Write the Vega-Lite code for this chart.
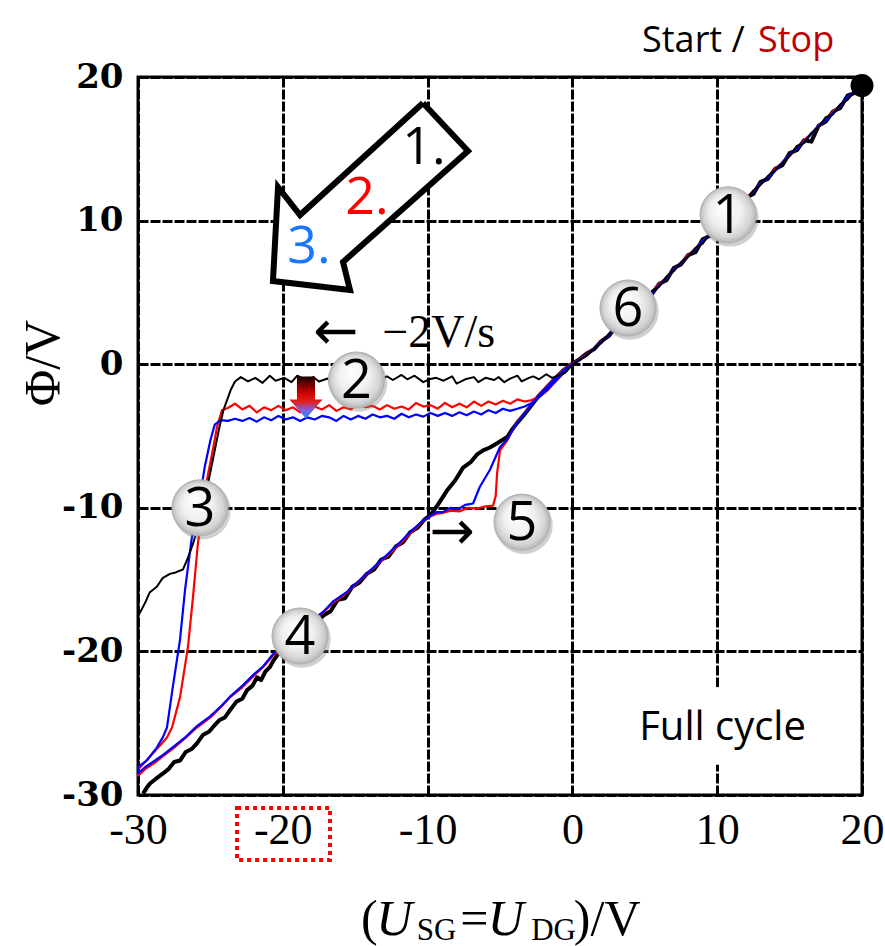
{
"$schema":"https://vega.github.io/schema/vega-lite/v6.json",
"width":724,"height":718,
"autosize":{"type":"none"},
"padding":{"left":138,"top":77,"right":23,"bottom":151},
"background":"white",
"config":{"view":{"stroke":"black","strokeWidth":3},"axis":{"domain":false,"ticks":false,"tickSize":0,"grid":true,"gridColor":"black","gridWidth":3,"gridDash":[10,2],"gridOpacity":1,"labelColor":"black","labelExpr":"'' + datum.value"}},
"datasets":{
"ku":[{"u":-29.65,"p":-29.9},{"u":-29.4,"p":-29.5},{"u":-29.17,"p":-29.2},{"u":-28.8,"p":-28.9},{"u":-28.27,"p":-28.5},{"u":-27.9,"p":-28.2},{"u":-27.5,"p":-27.7},{"u":-27.1,"p":-27.6},{"u":-26.7,"p":-27.0},{"u":-26.3,"p":-26.8},{"u":-25.93,"p":-26.4},{"u":-25.5,"p":-25.8},{"u":-25.1,"p":-25.6},{"u":-24.8,"p":-25.25},{"u":-24.4,"p":-24.8},{"u":-24.0,"p":-24.6},{"u":-23.65,"p":-24.1},{"u":-23.2,"p":-23.5},{"u":-22.8,"p":-23.3},{"u":-22.47,"p":-22.7},{"u":-22.1,"p":-22.4},{"u":-21.78,"p":-21.8},{"u":-21.5,"p":-22.0},{"u":-21.2,"p":-21.4},{"u":-20.9,"p":-21.1},{"u":-20.68,"p":-20.7},{"u":-20.2,"p":-20.0},{"u":-19.7,"p":-19.9},{"u":-19.2,"p":-19.3},{"u":-18.7,"p":-19.0},{"u":-18.2,"p":-18.3},{"u":-17.7,"p":-18.1},{"u":-17.2,"p":-17.5},{"u":-16.7,"p":-17.2},{"u":-16.2,"p":-16.4},{"u":-15.7,"p":-16.3},{"u":-15.2,"p":-15.5},{"u":-14.7,"p":-15.2},{"u":-14.2,"p":-14.6},{"u":-13.7,"p":-14.3},{"u":-13.2,"p":-13.6},{"u":-12.7,"p":-13.4},{"u":-12.2,"p":-12.7},{"u":-11.7,"p":-12.4},{"u":-11.2,"p":-11.7},{"u":-10.7,"p":-11.4},{"u":-10.2,"p":-10.8},{"u":-9.8,"p":-10.5},{"u":-9.3,"p":-9.8},{"u":-8.66,"p":-8.8},{"u":-8.1,"p":-8.1},{"u":-7.55,"p":-7.2},{"u":-7.0,"p":-6.8},{"u":-6.6,"p":-6.3},{"u":-6.17,"p":-6.0},{"u":-5.7,"p":-5.8},{"u":-5.2,"p":-5.5},{"u":-4.5,"p":-5.07},{"u":-4.2,"p":-4.6},{"u":-3.83,"p":-4.1},{"u":-3.4,"p":-3.6},{"u":-2.93,"p":-3.0},{"u":-2.4,"p":-2.3},{"u":-1.75,"p":-1.6},{"u":-1.2,"p":-1.0},{"u":-0.65,"p":-0.45},{"u":0,"p":0.05},{"u":0.5,"p":0.35},{"u":1,"p":0.75},{"u":1.5,"p":1.05},{"u":2,"p":1.6},{"u":2.5,"p":1.95},{"u":3,"p":2.6},{"u":3.5,"p":2.95},{"u":4,"p":3.6},{"u":4.5,"p":3.85},{"u":5,"p":4.6},{"u":5.5,"p":4.9},{"u":6,"p":5.6},{"u":6.5,"p":5.85},{"u":7,"p":6.7},{"u":7.5,"p":6.95},{"u":8,"p":7.6},{"u":8.5,"p":7.8},{"u":9,"p":8.7},{"u":9.5,"p":8.95},{"u":10,"p":9.6},{"u":10.5,"p":9.9},{"u":11,"p":10.7},{"u":11.5,"p":10.9},{"u":12,"p":11.6},{"u":12.5,"p":11.85},{"u":13,"p":12.7},{"u":13.5,"p":12.9},{"u":14,"p":13.6},{"u":14.5,"p":13.85},{"u":15,"p":14.7},{"u":15.5,"p":14.9},{"u":16,"p":15.6},{"u":16.5,"p":15.5},{"u":17,"p":16.6},{"u":17.5,"p":16.9},{"u":18,"p":17.6},{"u":18.5,"p":17.85},{"u":19,"p":18.7},{"u":19.5,"p":18.9},{"u":20,"p":19.45}],
"r":[{"u":20,"p":19.5},{"u":19,"p":18.5},{"u":18,"p":17.5},{"u":17,"p":16.6},{"u":16,"p":15.5},{"u":15,"p":14.6},{"u":14,"p":13.5},{"u":13,"p":12.6},{"u":12,"p":11.5},{"u":11,"p":10.6},{"u":10,"p":9.5},{"u":9,"p":8.6},{"u":8,"p":7.5},{"u":7,"p":6.6},{"u":6,"p":5.5},{"u":5,"p":4.6},{"u":4,"p":3.5},{"u":3,"p":2.6},{"u":2,"p":1.5},{"u":1,"p":0.7},{"u":0,"p":0},{"u":-0.6,"p":-0.6},{"u":-1.2,"p":-1.25},{"u":-1.7,"p":-1.8},{"u":-2.2,"p":-2.2},{"u":-2.8,"p":-2.5},{"u":-3.3,"p":-2.6},{"u":-3.8,"p":-2.45},{"u":-4.3,"p":-2.75},{"u":-4.8,"p":-2.55},{"u":-5.3,"p":-2.8},{"u":-5.8,"p":-2.6},{"u":-6.3,"p":-2.9},{"u":-6.8,"p":-2.6},{"u":-7.3,"p":-3.0},{"u":-7.8,"p":-2.75},{"u":-8.3,"p":-3.0},{"u":-8.8,"p":-2.7},{"u":-9.3,"p":-3.1},{"u":-9.8,"p":-2.85},{"u":-10.3,"p":-2.95},{"u":-10.8,"p":-2.7},{"u":-11.3,"p":-3.15},{"u":-11.8,"p":-2.95},{"u":-12.3,"p":-3.1},{"u":-12.8,"p":-2.85},{"u":-13.3,"p":-3.15},{"u":-13.8,"p":-2.9},{"u":-14.3,"p":-3.0},{"u":-14.8,"p":-2.75},{"u":-15.3,"p":-3.15},{"u":-15.8,"p":-3.0},{"u":-16.3,"p":-3.25},{"u":-16.8,"p":-2.85},{"u":-17.3,"p":-3.15},{"u":-17.8,"p":-2.95},{"u":-18.3,"p":-3.1},{"u":-18.8,"p":-3.35},{"u":-19.3,"p":-3.0},{"u":-19.8,"p":-3.2},{"u":-20.3,"p":-2.9},{"u":-20.8,"p":-3.2},{"u":-21.3,"p":-3.0},{"u":-21.8,"p":-3.35},{"u":-22.3,"p":-2.9},{"u":-22.8,"p":-3.15},{"u":-23.3,"p":-2.75},{"u":-23.8,"p":-3.05},{"u":-24.2,"p":-3.2},{"u":-24.55,"p":-4.4},{"u":-24.8,"p":-5.8},{"u":-25.2,"p":-7.85},{"u":-25.5,"p":-10.0},{"u":-25.86,"p":-12.45},{"u":-26.2,"p":-16.2},{"u":-26.55,"p":-19.7},{"u":-27.1,"p":-23.2},{"u":-27.65,"p":-25.3},{"u":-28.0,"p":-26.0},{"u":-28.34,"p":-26.4},{"u":-29.2,"p":-27.35},{"u":-30,"p":-28.25},{"u":-30,"p":-28.65},{"u":-29.5,"p":-28.2},{"u":-28.9,"p":-27.8},{"u":-28.27,"p":-27.3},{"u":-27.5,"p":-26.7},{"u":-26.7,"p":-26.0},{"u":-25.93,"p":-25.3},{"u":-25.0,"p":-24.6},{"u":-24.2,"p":-23.8},{"u":-23.65,"p":-23.2},{"u":-22.8,"p":-22.5},{"u":-22.0,"p":-21.7},{"u":-21.37,"p":-21.1},{"u":-20.68,"p":-20.3},{"u":-20,"p":-19.7},{"u":-19,"p":-18.8},{"u":-18,"p":-17.9},{"u":-17.22,"p":-17.3},{"u":-16.5,"p":-16.6},{"u":-15.57,"p":-15.9},{"u":-14.5,"p":-14.9},{"u":-13.3,"p":-13.8},{"u":-12.2,"p":-12.8},{"u":-11.0,"p":-11.6},{"u":-10.4,"p":-11.0},{"u":-9.83,"p":-10.6},{"u":-9.3,"p":-10.4},{"u":-8.94,"p":-10.35},{"u":-8.4,"p":-10.2},{"u":-7.8,"p":-10.25},{"u":-7.2,"p":-10.0},{"u":-6.6,"p":-10.05},{"u":-6.0,"p":-9.9},{"u":-5.48,"p":-9.85},{"u":-5.3,"p":-9.2},{"u":-5.2,"p":-7.6},{"u":-5.0,"p":-6.0},{"u":-4.5,"p":-5.3},{"u":-3.83,"p":-4.0},{"u":-2.93,"p":-2.9},{"u":-1.75,"p":-1.5},{"u":-0.65,"p":-0.4},{"u":0,"p":0.05},{"u":1,"p":0.6},{"u":2,"p":1.6},{"u":3,"p":2.5},{"u":4,"p":3.6},{"u":5,"p":4.5},{"u":6,"p":5.6},{"u":7,"p":6.5},{"u":8,"p":7.6},{"u":9,"p":8.5},{"u":10,"p":9.6},{"u":11,"p":10.5},{"u":12,"p":11.6},{"u":13,"p":12.5},{"u":14,"p":13.6},{"u":15,"p":14.5},{"u":16,"p":15.6},{"u":17,"p":16.5},{"u":18,"p":17.6},{"u":19,"p":18.5},{"u":20,"p":19.45}],
"b":[{"u":20,"p":19.45},{"u":19,"p":18.55},{"u":18,"p":17.45},{"u":17,"p":16.55},{"u":16,"p":15.5},{"u":15,"p":14.55},{"u":14,"p":13.45},{"u":13,"p":12.55},{"u":12,"p":11.5},{"u":11,"p":10.55},{"u":10,"p":9.45},{"u":9,"p":8.55},{"u":8,"p":7.5},{"u":7,"p":6.55},{"u":6,"p":5.45},{"u":5,"p":4.55},{"u":4,"p":3.5},{"u":3,"p":2.55},{"u":2,"p":1.5},{"u":1,"p":0.65},{"u":0,"p":0},{"u":-0.5,"p":-0.5},{"u":-1.1,"p":-1.1},{"u":-1.7,"p":-1.75},{"u":-2.3,"p":-2.3},{"u":-2.8,"p":-2.7},{"u":-3.3,"p":-2.95},{"u":-3.8,"p":-3.1},{"u":-4.3,"p":-3.25},{"u":-4.8,"p":-3.1},{"u":-5.3,"p":-3.4},{"u":-5.8,"p":-3.2},{"u":-6.3,"p":-3.5},{"u":-6.8,"p":-3.3},{"u":-7.3,"p":-3.55},{"u":-7.8,"p":-3.35},{"u":-8.3,"p":-3.6},{"u":-8.8,"p":-3.4},{"u":-9.3,"p":-3.6},{"u":-9.8,"p":-3.4},{"u":-10.3,"p":-3.65},{"u":-10.8,"p":-3.5},{"u":-11.3,"p":-3.7},{"u":-11.8,"p":-3.45},{"u":-12.3,"p":-3.8},{"u":-12.8,"p":-3.6},{"u":-13.3,"p":-3.7},{"u":-13.8,"p":-3.5},{"u":-14.3,"p":-3.8},{"u":-14.8,"p":-3.6},{"u":-15.3,"p":-3.85},{"u":-15.8,"p":-3.6},{"u":-16.3,"p":-3.95},{"u":-16.8,"p":-3.7},{"u":-17.3,"p":-3.6},{"u":-17.8,"p":-3.85},{"u":-18.3,"p":-3.7},{"u":-18.8,"p":-3.95},{"u":-19.3,"p":-3.7},{"u":-19.8,"p":-3.85},{"u":-20.3,"p":-3.6},{"u":-20.8,"p":-3.9},{"u":-21.3,"p":-3.7},{"u":-21.8,"p":-4.0},{"u":-22.3,"p":-3.75},{"u":-22.8,"p":-3.95},{"u":-23.3,"p":-3.8},{"u":-23.8,"p":-3.95},{"u":-24.3,"p":-3.9},{"u":-24.7,"p":-4.2},{"u":-25.0,"p":-5.3},{"u":-25.4,"p":-7.2},{"u":-25.8,"p":-9.8},{"u":-26.3,"p":-12.2},{"u":-26.75,"p":-15.7},{"u":-27.1,"p":-19.2},{"u":-27.6,"p":-22.5},{"u":-28.0,"p":-25.3},{"u":-28.27,"p":-25.95},{"u":-28.7,"p":-26.7},{"u":-29.4,"p":-27.6},{"u":-30,"p":-28.05},{"u":-30,"p":-28.5},{"u":-29.5,"p":-28.05},{"u":-28.9,"p":-27.65},{"u":-28.27,"p":-27.2},{"u":-27.5,"p":-26.6},{"u":-26.7,"p":-25.95},{"u":-25.93,"p":-25.2},{"u":-25.0,"p":-24.5},{"u":-24.2,"p":-23.75},{"u":-23.65,"p":-23.15},{"u":-22.8,"p":-22.4},{"u":-22.0,"p":-21.6},{"u":-21.37,"p":-21.05},{"u":-20.68,"p":-20.2},{"u":-20,"p":-19.6},{"u":-19,"p":-18.7},{"u":-18,"p":-17.85},{"u":-17.22,"p":-17.25},{"u":-16.5,"p":-16.5},{"u":-15.57,"p":-15.85},{"u":-14.5,"p":-14.85},{"u":-13.3,"p":-13.75},{"u":-12.2,"p":-12.7},{"u":-11.0,"p":-11.5},{"u":-10.4,"p":-10.95},{"u":-9.83,"p":-10.6},{"u":-9.4,"p":-10.3},{"u":-8.94,"p":-10.3},{"u":-8.4,"p":-10.0},{"u":-7.9,"p":-10.1},{"u":-7.4,"p":-9.8},{"u":-6.86,"p":-9.7},{"u":-6.4,"p":-8.55},{"u":-5.7,"p":-7.37},{"u":-5.0,"p":-5.77},{"u":-4.5,"p":-5.25},{"u":-3.83,"p":-4.05},{"u":-2.93,"p":-2.95},{"u":-1.75,"p":-1.55},{"u":-0.65,"p":-0.45},{"u":0,"p":0},{"u":1,"p":0.65},{"u":2,"p":1.55},{"u":3,"p":2.6},{"u":4,"p":3.5},{"u":5,"p":4.6},{"u":6,"p":5.5},{"u":7,"p":6.6},{"u":8,"p":7.5},{"u":9,"p":8.6},{"u":10,"p":9.5},{"u":11,"p":10.6},{"u":12,"p":11.5},{"u":13,"p":12.6},{"u":14,"p":13.5},{"u":15,"p":14.6},{"u":16,"p":15.5},{"u":17,"p":16.6},{"u":18,"p":17.5},{"u":19,"p":18.6},{"u":20,"p":19.45}],
"kd":[{"u":20,"p":19.45},{"u":19.5,"p":19.0},{"u":19,"p":18.4},{"u":18.5,"p":18.1},{"u":18,"p":17.4},{"u":17.5,"p":17.2},{"u":17,"p":16.5},{"u":16.5,"p":16.1},{"u":16,"p":15.4},{"u":15.5,"p":15.2},{"u":15,"p":14.5},{"u":14.5,"p":14.0},{"u":14,"p":13.5},{"u":13.5,"p":13.1},{"u":13,"p":12.5},{"u":12.5,"p":12.1},{"u":12,"p":11.4},{"u":11.5,"p":11.2},{"u":11,"p":10.5},{"u":10.5,"p":10.0},{"u":10,"p":9.5},{"u":9.5,"p":9.1},{"u":9,"p":8.4},{"u":8.5,"p":8.1},{"u":8,"p":7.5},{"u":7.5,"p":7.1},{"u":7,"p":6.5},{"u":6.5,"p":6.1},{"u":6,"p":5.4},{"u":5.5,"p":5.1},{"u":5,"p":4.5},{"u":4.5,"p":4.1},{"u":4,"p":3.5},{"u":3.5,"p":3.1},{"u":3,"p":2.5},{"u":2.5,"p":2.1},{"u":2,"p":1.5},{"u":1.5,"p":1.1},{"u":1,"p":0.6},{"u":0.5,"p":0.3},{"u":0,"p":-0.05},{"u":-0.5,"p":-0.6},{"u":-1.0,"p":-0.8},{"u":-1.4,"p":-0.95},{"u":-1.8,"p":-0.7},{"u":-2.3,"p":-1.05},{"u":-2.7,"p":-0.85},{"u":-3.0,"p":-0.95},{"u":-3.5,"p":-1.2},{"u":-3.8,"p":-0.8},{"u":-4.3,"p":-1.0},{"u":-4.7,"p":-1.25},{"u":-5.1,"p":-0.9},{"u":-5.4,"p":-1.1},{"u":-6.0,"p":-0.95},{"u":-6.5,"p":-1.25},{"u":-6.8,"p":-0.9},{"u":-7.4,"p":-1.05},{"u":-8.0,"p":-1.35},{"u":-8.3,"p":-0.85},{"u":-8.9,"p":-1.15},{"u":-9.4,"p":-0.95},{"u":-9.9,"p":-1.05},{"u":-10.3,"p":-1.25},{"u":-10.9,"p":-0.8},{"u":-11.4,"p":-1.05},{"u":-11.8,"p":-0.75},{"u":-12.4,"p":-1.1},{"u":-12.8,"p":-0.85},{"u":-13.5,"p":-1.15},{"u":-13.9,"p":-0.9},{"u":-14.3,"p":-1.05},{"u":-14.9,"p":-0.75},{"u":-15.5,"p":-1.1},{"u":-16.0,"p":-0.9},{"u":-16.4,"p":-1.35},{"u":-16.9,"p":-1.0},{"u":-17.5,"p":-1.2},{"u":-17.9,"p":-0.9},{"u":-18.4,"p":-1.1},{"u":-19.0,"p":-0.8},{"u":-19.4,"p":-1.25},{"u":-19.9,"p":-0.95},{"u":-20.5,"p":-1.15},{"u":-20.9,"p":-0.8},{"u":-21.4,"p":-1.3},{"u":-21.9,"p":-0.95},{"u":-22.4,"p":-1.2},{"u":-22.9,"p":-0.9},{"u":-23.3,"p":-1.2},{"u":-23.6,"p":-1.8},{"u":-24.1,"p":-3.2},{"u":-24.4,"p":-4.5},{"u":-24.8,"p":-6.5},{"u":-25.2,"p":-8.5},{"u":-25.6,"p":-10.5},{"u":-26.2,"p":-12.5},{"u":-26.6,"p":-13.6},{"u":-26.9,"p":-14.3},{"u":-27.4,"p":-14.5},{"u":-27.8,"p":-14.6},{"u":-28.3,"p":-14.9},{"u":-28.7,"p":-15.5},{"u":-29.2,"p":-15.9},{"u":-29.5,"p":-16.6},{"u":-29.86,"p":-17.3},{"u":-30,"p":-17.5}],
"balloons":[{"u":10.75,"p":10.4,"t":"1"},{"u":-14.91,"p":-1.1,"t":"2"},{"u":-25.72,"p":-10.0,"t":"3"},{"u":-18.81,"p":-18.93,"t":"4"},{"u":-3.48,"p":-11.0,"t":"5"},{"u":3.84,"p":3.91,"t":"6"}]
},
"encoding":{
"x":{"field":"u","type":"quantitative","title":null,"scale":{"domain":[-30,20],"nice":false,"zero":false},"axis":{"values":[-30,-20,-10,0,10,20],"labelFont":"Liberation Serif","labelFontSize":44,"labelPadding":13,"labelFlush":false,"labelOverlap":false}},
"y":{"field":"p","type":"quantitative","title":null,"scale":{"domain":[-30,20],"nice":false,"zero":false},"axis":{"values":[-30,-20,-10,0,10,20],"labelFont":"DejaVu Serif","labelFontWeight":"bold","labelFontSize":34,"labelPadding":15,"labelFlush":false,"labelOverlap":false}}
},
"layer":[
{"data":{"values":[{"u":4,"u2":17,"p":-22.5,"p2":-27.9}]},"mark":{"type":"rect","fill":"white","strokeWidth":0},"encoding":{"x2":{"field":"u2"},"y2":{"field":"p2"}}},
{"data":{"name":"ku"},"mark":{"type":"line","color":"black","strokeWidth":4,"strokeJoin":"round"},"encoding":{"order":{"value":null}}},
{"data":{"name":"r"},"mark":{"type":"line","color":"#ff0000","strokeWidth":2.2,"strokeJoin":"round"},"encoding":{"order":{"value":null}}},
{"data":{"name":"b"},"mark":{"type":"line","color":"#0000ff","strokeWidth":2.2,"strokeJoin":"round"},"encoding":{"order":{"value":null}}},
{"data":{"name":"kd"},"mark":{"type":"line","color":"black","strokeWidth":2,"strokeJoin":"round"},"encoding":{"order":{"value":null}}},
{"data":{"values":[{"u":-10.32,"p":18.19},{"u":-7.21,"p":14.85},{"u":-15.84,"p":7.12},{"u":-15.36,"p":5.17},{"u":-20.68,"p":5.79},{"u":-20.33,"p":12.34},{"u":-18.81,"p":10.39},{"u":-10.32,"p":18.19}]},"mark":{"type":"line","color":"black","fill":"white","strokeWidth":6,"strokeJoin":"miter"},"encoding":{"order":{"value":null}}},
{"data":{"values":[{"u":-10.25,"p":15.06,"t":"1."},{"u":-14.19,"p":11.57,"t":"2."},{"u":-18.19,"p":8.16,"t":"3."}]},"mark":{"type":"text","font":"Open Sans","fontSize":52,"baseline":"middle","align":"center"},"encoding":{"text":{"field":"t"},"color":{"field":"t","type":"nominal","scale":{"domain":["1.","2.","3."],"range":["black","#ff0000","#1a75ff"]},"legend":null}}},
{"data":{"values":[{"u":-18.4,"p":-2.32}]},"mark":{"type":"point","shape":"M-0.43,-1L0.43,-1L0.43,0.1L0.79,0.1L0,1L-0.79,0.1L-0.43,0.1Z","size":1764,"filled":true,"opacity":1,"strokeWidth":0,"fill":{"gradient":"linear","x1":0,"y1":0,"x2":0,"y2":1,"stops":[{"offset":0,"color":"#1a0000"},{"offset":0.4,"color":"#d00000"},{"offset":0.6,"color":"#e02020"},{"offset":0.8,"color":"#8060e0"},{"offset":1,"color":"#1a8cff"}]}}},
{"data":{"name":"balloons"},"mark":{"type":"point","shape":"circle","size":3300,"filled":true,"color":"#777777","opacity":0.35,"xOffset":2,"yOffset":3}},
{"data":{"name":"balloons"},"mark":{"type":"point","shape":"circle","size":3150,"filled":true,"opacity":1,"stroke":"#b0b0b0","strokeWidth":1,"fill":{"gradient":"radial","x1":0.4,"y1":0.35,"r1":0,"x2":0.5,"y2":0.5,"r2":0.5,"stops":[{"offset":0,"color":"#ffffff"},{"offset":0.55,"color":"#f0f0f0"},{"offset":0.85,"color":"#d4d4d4"},{"offset":1,"color":"#b4b4b4"}]}}},
{"data":{"name":"balloons"},"mark":{"type":"text","font":"Open Sans","fontSize":54,"baseline":"middle","align":"center","color":"black","dy":2},"encoding":{"text":{"field":"t"}}},
{"data":{"values":[{"u":-16.33,"p":2.17,"t":"←"},{"u":-8.31,"p":-11.75,"t":"→"}]},"mark":{"type":"text","font":"DejaVu Sans","fontSize":54,"baseline":"middle","align":"center","color":"black"},"encoding":{"text":{"field":"t"}}},
{"data":{"values":[{"u":-13.12,"p":1.2,"t":"−2V/s"}]},"mark":{"type":"text","font":"Liberation Serif","fontSize":46,"baseline":"alphabetic","align":"left","color":"black"},"encoding":{"text":{"field":"t"}}},
{"data":{"values":[{"u":20,"p":19.4}]},"mark":{"type":"point","shape":"circle","size":530,"filled":true,"color":"black","opacity":1}},
{"data":{"values":[{"u":4.81,"p":21.74,"t":"Start /"}]},"mark":{"type":"text","font":"Open Sans","fontSize":36,"baseline":"alphabetic","align":"left","color":"black"},"encoding":{"text":{"field":"t"}}},
{"data":{"values":[{"u":12.82,"p":21.74,"t":"Stop"}]},"mark":{"type":"text","font":"Open Sans","fontSize":36,"baseline":"alphabetic","align":"left","color":"#c00000"},"encoding":{"text":{"field":"t"}}},
{"data":{"values":[{"u":10.37,"p":-26.17,"t":"Full cycle"}]},"mark":{"type":"text","font":"Open Sans","fontSize":40,"baseline":"alphabetic","align":"center","color":"black"},"encoding":{"text":{"field":"t"}}},
{"data":{"values":[{"u":-23.16,"u2":-16.74,"p":-30.9,"p2":-34.53}]},"mark":{"type":"rect","fill":"white","fillOpacity":0,"stroke":"#ff0000","strokeWidth":4,"strokeDash":[4,4]},"encoding":{"x2":{"field":"u2"},"y2":{"field":"p2"}}},
{"data":{"values":[{"u":-14.6,"p":-39.75,"t":"("},{"u":-7.75,"p":-39.75,"t":"="},{"u":0.1,"p":-39.75,"t":")/V"}]},"mark":{"type":"text","font":"Liberation Serif","fontSize":50,"baseline":"alphabetic","align":"left","color":"black"},"encoding":{"text":{"field":"t"}}},
{"data":{"values":[{"u":-13.55,"p":-39.75,"t":"U"},{"u":-5.85,"p":-39.75,"t":"U"}]},"mark":{"type":"text","font":"Liberation Serif","fontStyle":"italic","fontSize":50,"baseline":"alphabetic","align":"left","color":"black"},"encoding":{"text":{"field":"t"}}},
{"data":{"values":[{"u":-10.75,"p":-40.1,"t":"SG"},{"u":-2.85,"p":-40.1,"t":"DG"}]},"mark":{"type":"text","font":"Liberation Serif","fontSize":31,"baseline":"alphabetic","align":"left","color":"black"},"encoding":{"text":{"field":"t"}}},
{"data":{"values":[{"u":-36.49,"p":0.08,"t":"Φ/V"}]},"mark":{"type":"text","font":"Liberation Serif","fontSize":50,"angle":270,"baseline":"middle","align":"center","color":"black"},"encoding":{"text":{"field":"t"}}}
]
}
